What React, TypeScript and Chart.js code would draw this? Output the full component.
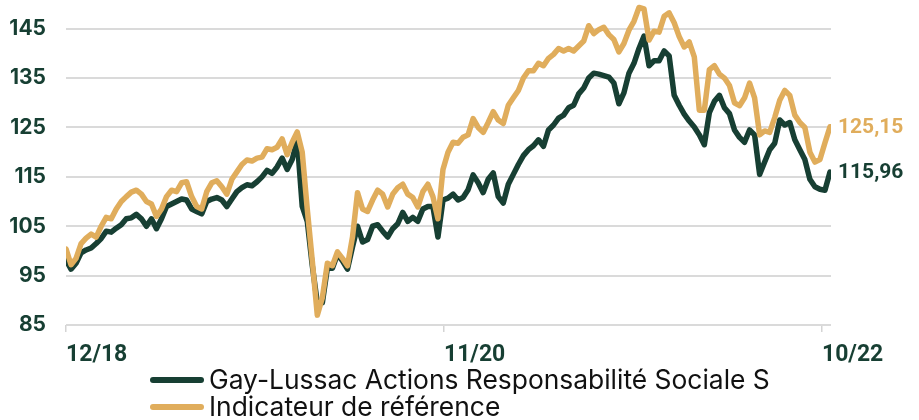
import React, { useEffect, useRef } from 'react';
import { Chart, registerables } from 'chart.js';

Chart.register(...registerables);

const seriesNames = ['Gay-Lussac Actions Responsabilité Sociale S', 'Indicateur de référence'];

// Fund (dark green), sampled ~ every 5 px of the original time axis
const fundValues = [
  98.2, 96.3, 97.5, 99.6, 100.2, 100.6, 101.5, 102.5, 104, 103.8,
  104.6, 105.3, 106.5, 106.7, 107.4, 106.5, 105, 106.5, 104.5, 106.5,
  109, 109.5, 110, 110.5, 110.3, 108.5, 108, 107.5, 110, 110.5,
  110.8, 110.3, 109, 110.5, 112, 112.8, 113.4, 113.2, 114, 115,
  116.3, 115.7, 117, 118.8, 116.5, 118.5, 122.5, 109, 106, 97,
  89.5, 89.5, 96.5, 96.5, 99.3, 98, 96.3, 100.8, 105, 101.8,
  102.3, 105, 105.3, 104, 102.8, 104.5, 105.5, 107.8, 106, 106.8,
  106, 108.5, 109, 109, 102.8, 110.3, 110.7, 111.5, 110.3, 110.8,
  112.4, 115.4, 113.8, 111.8, 114.5, 115.8, 111, 109.7, 113.5, 115.5,
  117.5, 119.3, 120.5, 121.3, 122.5, 121.2, 124.5, 125.5, 126.9, 127.5,
  129, 129.5, 131.8, 133, 135, 136, 135.8, 135.5, 135.2, 134,
  129.8, 132, 136, 138, 141, 143.5, 137.5, 138.5, 138.5, 140.5,
  139.5, 131.5, 129.5, 127.7, 126.3, 125.1, 123.5, 121.5, 128, 130.3,
  131.5, 129, 127.8, 124.5, 123, 122, 124.5, 123.5, 115.5, 118,
  120.5, 121.8, 126.5, 125.5, 126, 122.5, 120.5, 118.5, 114.5, 113,
  112.5, 112.3, 115.96,
];

// Benchmark (gold)
const benchValues = [
  100.4, 97.2, 98.5, 101.5, 102.6, 103.4, 102.8, 105, 106.8, 106.5,
  108.5, 110, 111, 111.9, 112.3, 111.5, 110, 109.5, 107, 108.5,
  111, 112.3, 112, 113.8, 114, 111, 109, 108.5, 112, 113.8,
  114.2, 113, 111.5, 114.5, 116, 117.5, 118.4, 118.2, 118.8, 119,
  120.7, 120.5, 121, 122.7, 119.5, 122, 124.1, 120, 108.5, 98,
  87, 90.5, 97.5, 97, 99.8, 98.5, 97, 102.8, 111.8, 108.5,
  108, 110.3, 112.3, 111.5, 108.9, 111.5, 112.8, 113.5, 111.5, 110.8,
  108.9, 112, 113.5, 111, 106.5, 116.5, 120, 122, 121.8, 123,
  123.5, 126.8, 125, 124, 126, 128.2, 126.5, 125.8, 129.5, 131,
  132.5, 135, 136.5, 136.5, 138, 137.5, 139, 139.8, 141, 140.5,
  141, 140.5, 141.5, 142.5, 145.6, 144, 144.8, 145.3, 143.8, 142.8,
  140.3, 142, 144.7, 146.5, 149.3, 149, 142.7, 144.5, 144.3, 147.5,
  148.2, 146.2, 143.4, 141.3, 142.3, 139.3, 128.5, 128.5, 136.7, 137.5,
  135.8, 135, 133.5, 130, 129.4, 131, 134, 131, 123.5, 124.3,
  124, 127, 130.5, 132.5, 131.5, 127.5, 126, 125, 120, 118,
  118.5, 121.9, 125.15,
];

const yTicks = [85, 95, 105, 115, 125, 135, 145];
const xTickPositions = [0, 75.2, 150.4];
const xTickLabels = ['12/18', '11/20', '10/22'];

const DARK = '#173f33';
const GOLD = '#e0ad5c';
const FONT = 'Inter, Roboto, "Liberation Sans", sans-serif';
const NUMFONT = 'Roboto, Inter, "Liberation Sans", sans-serif';

export default function App() {
  const ref = useRef<HTMLCanvasElement>(null);

  useEffect(() => {
    document.body.style.margin = '0';
    const toPts = (arr: number[]) => arr.map((v, i) => ({ x: i, y: v }));

    const endLabels = {
      id: 'endLabels',
      afterDatasetsDraw(chart: any) {
        const ctx = chart.ctx;
        ctx.save();
        ctx.font = `700 21px ${NUMFONT}`;
        ctx.textAlign = 'left';
        ctx.textBaseline = 'middle';
        chart.data.datasets.forEach((ds: any, i: number) => {
          const meta = chart.getDatasetMeta(i);
          const last = meta.data[meta.data.length - 1];
          const v = ds.data[ds.data.length - 1].y as number;
          ctx.fillStyle = ds.borderColor;
          ctx.fillText(v.toFixed(2).replace('.', ','), chart.chartArea.right + 7, last.y + 1);
        });
        ctx.restore();
      },
    };

    const customLegend = {
      id: 'customLegend',
      afterDraw(chart: any) {
        const ctx = chart.ctx;
        ctx.save();
        ctx.font = `400 26.4px ${FONT}`;
        const lineLen = 54;
        const gap = 5;
        const w = lineLen + gap + ctx.measureText(chart.data.datasets[0].label).width;
        const x0 = Math.round((chart.width - w) / 2);
        const y0 = chart.chartArea.bottom + 55;
        const rowH = 27;
        chart.data.datasets.forEach((ds: any, i: number) => {
          const y = y0 + i * rowH;
          ctx.strokeStyle = ds.borderColor;
          ctx.lineWidth = 6;
          ctx.lineCap = 'round';
          ctx.beginPath();
          ctx.moveTo(x0 + 3, y);
          ctx.lineTo(x0 + lineLen - 3, y);
          ctx.stroke();
          ctx.fillStyle = '#111111';
          ctx.textAlign = 'left';
          ctx.textBaseline = 'middle';
          ctx.fillText(ds.label, x0 + lineLen + gap, y + 1);
        });
        ctx.restore();
      },
    };

    const chart = new Chart(ref.current as HTMLCanvasElement, {
      type: 'line',
      data: {
        datasets: [
          {
            label: seriesNames[0],
            data: toPts(fundValues),
            borderColor: DARK,
            backgroundColor: DARK,
            borderWidth: 5.5,
            pointRadius: 0,
            tension: 0,
            borderJoinStyle: 'round',
            borderCapStyle: 'round',
            order: 1,
          },
          {
            label: seriesNames[1],
            data: toPts(benchValues),
            borderColor: GOLD,
            backgroundColor: GOLD,
            borderWidth: 5.5,
            pointRadius: 0,
            tension: 0,
            borderJoinStyle: 'round',
            borderCapStyle: 'round',
            order: 0,
          },
        ],
      },
      options: {
        animation: false,
        responsive: false,
        layout: { padding: { top: 4, right: 88, left: 0, bottom: 0 } },
        plugins: { legend: { display: false }, tooltip: { enabled: false } },
        scales: {
          x: {
            type: 'linear',
            min: 0,
            max: 152.2,
            afterBuildTicks: (s: any) => {
              s.ticks = xTickPositions.map((v) => ({ value: v }));
            },
            afterFit: (s: any) => {
              s.height = 95;
              s.paddingLeft = 0;
              s.paddingRight = 0;
            },
            ticks: {
              callback: (_v: any, i: number) => xTickLabels[i],
              align: 'start',
              font: { family: NUMFONT, size: 23, weight: 'bold' },
              color: DARK,
              padding: 9,
              maxRotation: 0,
              autoSkip: false,
            },
            grid: {
              drawOnChartArea: false,
              drawTicks: true,
              tickLength: 7,
              color: '#d4d4d4',
              lineWidth: 1.5,
            },
            border: { display: false },
          },
          y: {
            min: 85,
            max: 150,
            afterBuildTicks: (s: any) => {
              s.ticks = yTicks.map((v) => ({ value: v }));
            },
            afterFit: (s: any) => {
              s.width = 66;
              s.paddingTop = 0;
              s.paddingBottom = 0;
            },
            ticks: {
              font: { family: FONT, size: 21, weight: 'bold' },
              color: DARK,
              padding: 20,
            },
            grid: { color: '#dadada', lineWidth: 2, drawTicks: false },
            border: { display: false },
          },
        },
      } as any,
      plugins: [endLabels, customLegend],
    });
    return () => chart.destroy();
  }, []);

  return (
    <div style={{ width: 919, height: 420 }}>
      <canvas ref={ref} width={919} height={420} style={{ display: 'block' }} />
    </div>
  );
}
